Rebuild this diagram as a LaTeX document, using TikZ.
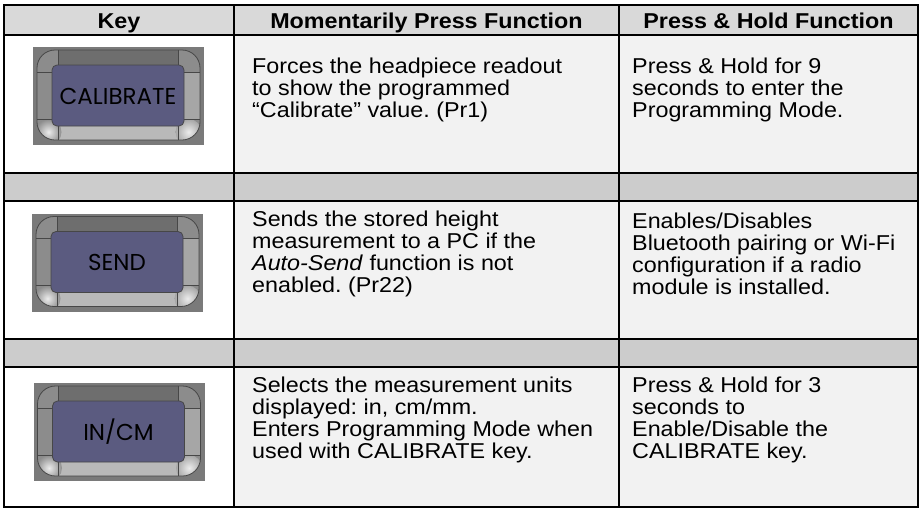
\documentclass[tikz,border=0pt]{standalone}
\usepackage{fontspec}
\setmainfont{Liberation Sans}[FakeStretch=1.085]
\newfontfamily\keyfont{Poppins}
\frenchspacing

\definecolor{headgray}{HTML}{D9D9D9}
\definecolor{gapgray}{HTML}{CCCCCC}
\definecolor{cellgray}{HTML}{F2F2F2}
\definecolor{keyback}{HTML}{7A7A7A}
\definecolor{bezelmid}{HTML}{8C8C8C}
\definecolor{bezeltop}{HTML}{6E6E6E}
\definecolor{bezelbot}{HTML}{B9B9B9}
\definecolor{bezelright}{HTML}{A6A6A6}
\definecolor{bezeledge}{HTML}{474747}
\definecolor{keyface}{HTML}{5B5B80}

\begin{document}
\begin{tikzpicture}[x=1pt, y=-1pt,
    rule/.style={line width=2.6pt},
    head/.style={font=\fontsize{21.5}{22}\selectfont\bfseries, inner sep=0pt, anchor=base},
    cell/.style={font=\fontsize{21.5}{21.9}\selectfont, align=left, inner sep=0pt, anchor=west},
    keylabel/.style={font=\keyfont\fontsize{23}{23}\selectfont, text=black, inner sep=0pt}]
  \useasboundingbox (0,0) rectangle (922,509);

  % backgrounds of the cells
  \fill[headgray] (4,5) rectangle (918,35);
  \fill[white] (4,35) rectangle (234,173);
  \fill[cellgray] (234,35) rectangle (918,173);
  \fill[gapgray] (4,173) rectangle (918,201);
  \fill[white] (4,201) rectangle (234,339);
  \fill[cellgray] (234,201) rectangle (918,339);
  \fill[gapgray] (4,339) rectangle (918,367);
  \fill[white] (4,367) rectangle (234,507);
  \fill[cellgray] (234,367) rectangle (918,507);

  % rules
  \foreach \ry in {35,173,201,339,367}
    \draw[rule] (4,\ry) -- (918,\ry);
  \foreach \rx in {234,619}
    \draw[rule] (\rx,5) -- (\rx,507);
  \draw[rule] (4,5) rectangle (918,507);

  \node[head] (hkey) at (119,28) {Key};
  \node[head] (hpress) at (426.5,28) {Momentarily Press Function};
  \node[head] (hhold) at (768.5,28) {Press \& Hold Function};

  \node[cell] (calpress) at (252,89.7) {Forces the headpiece readout\\to show the programmed\\“Calibrate” value. (Pr1)};
  \node[cell] (calhold) at (632,89.7) {Press \& Hold for 9\\seconds to enter the\\Programming Mode.};
  \node[cell] (sendpress) at (252,253.7) {Sends the stored height\\measurement to a PC if the\\\textit{Auto-Send} function is not\\enabled. (Pr22)};
  \node[cell] (sendhold) at (632,253.7) {Enables/Disables\\Bluetooth pairing or Wi-Fi\\configuration if a radio\\module is installed.};
  \node[cell] (unitpress) at (252,419.7) {Selects the measurement units\\displayed: in, cm/mm.\\Enters Programming Mode when\\used with CALIBRATE key.};
  \node[cell] (unithold) at (632,419.7) {Press \& Hold for 3\\seconds to\\Enable/Disable the\\CALIBRATE key.};

  % the three keys
  \foreach \kname/\kx/\ky/\ktext in {cal/118.5/96/CALIBRATE, send/117.5/262.5/SEND, incm/119/432/{IN/CM}} {
    \begin{scope}[shift={(\kx,\ky)}]
      \fill[keyback] (-85.5,-49) rectangle (85.5,49);
      \begin{scope}
        \clip[rounded corners=18] (-81.5,-46) rectangle (81.5,44);
        \fill[bezelmid] (-81.5,-46) rectangle (81.5,44);
        \fill[bezeltop] (-60.5,-46) rectangle (59.5,-31);
        \fill[bezelbot] (-60.5,30) rectangle (59.5,44);
        \fill[bezelright] (65.5,-24) rectangle (81.5,23);
        \shade[inner color=white!85!gray, outer color=bezelmid] (-70,36) circle (13);
        \shade[inner color=white!85!gray, outer color=bezelright] (70,36) circle (13);
        \draw[bezeledge, line width=0.6pt] (-60.5,-46) -- (-60.5,-31) (59.5,-46) -- (59.5,-31)
          (-60.5,30) -- (-60.5,44) (59.5,30) -- (59.5,44)
          (-81.5,-24) -- (-66.5,-24) (-81.5,23) -- (-66.5,23)
          (65.5,-24) -- (81.5,-24) (65.5,23) -- (81.5,23);
      \end{scope}
      \draw[bezeledge, line width=0.8pt, rounded corners=18] (-81.5,-46) rectangle (81.5,44);
      \draw[bezeledge, fill=keyface, line width=0.8pt, rounded corners=5] (-66.5,-31) rectangle (65.5,30);
      \node[keylabel] (key\kname) at (-0.5,0) {\ktext};
    \end{scope}
  }
\end{tikzpicture}
\end{document}
